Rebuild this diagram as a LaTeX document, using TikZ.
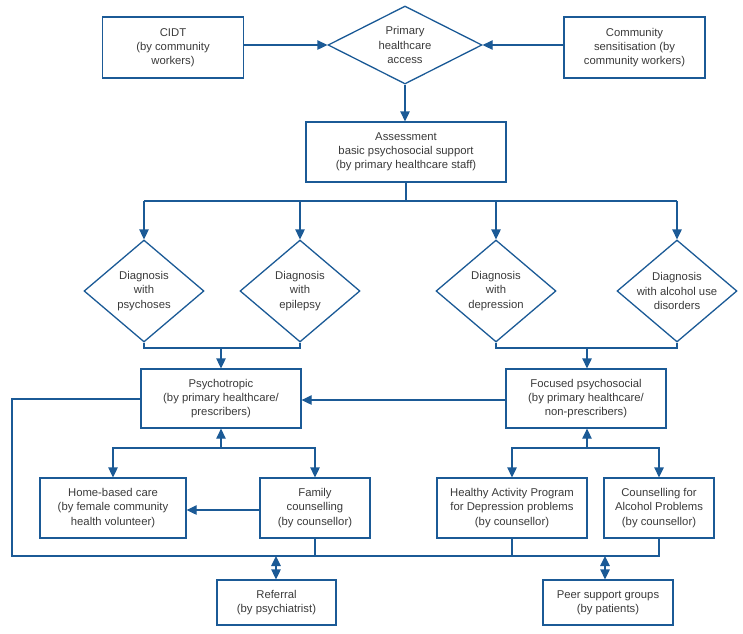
\documentclass[tikz,border=0pt]{standalone}
\usepackage{fontspec}
\setmainfont{Liberation Sans}
\usetikzlibrary{arrows.meta, shapes.geometric}

\definecolor{flowblue}{HTML}{1B5A96}
\definecolor{flowtext}{HTML}{3A3A3A}

\tikzset{
	box/.style={draw=flowblue, line width=1.3pt, rectangle, align=center, inner sep=2pt,
		text=flowtext, font=\fontsize{11.3}{14.2}\selectfont},
	choice/.style={draw=flowblue, line width=1.3pt, diamond, inner sep=0pt},
	choicetext/.style={align=center, text=flowtext, font=\fontsize{11.3}{14.2}\selectfont},
	link/.style={draw=flowblue, line width=1.3pt},
	arrow/.style={link, -{Triangle[length=10pt,width=9.5pt]}},
	twoway/.style={link, {Triangle[length=10pt,width=9.5pt]}-{Triangle[length=10pt,width=9.5pt]}}
}

\begin{document}
\begin{tikzpicture}[x=1pt, y=-1pt]
			\useasboundingbox (0,0) rectangle (743,633);
			% top row
			\node[box, minimum width=141pt, minimum height=61pt] (cidt) at (173,47.5) {CIDT\\(by community\\workers)};
			\node[choice, minimum width=154pt, minimum height=78pt,
				label={[choicetext]center:Primary\\healthcare\\access}] (access) at (405,45) {};
			\node[box, minimum width=141pt, minimum height=61pt] (sensit) at (634.5,47.5) {Community\\sensitisation (by\\community workers)};
			\node[box, minimum width=200pt, minimum height=60pt] (assess) at (406,152) {Assessment\\basic psychosocial support\\(by primary healthcare staff)};
			% diagnoses
			\node[choice, minimum width=120pt, minimum height=102pt,
				label={[choicetext]center:Diagnosis\\with\\psychoses}] (psychoses) at (144,291) {};
			\node[choice, minimum width=120pt, minimum height=102pt,
				label={[choicetext]center:Diagnosis\\with\\epilepsy}] (epilepsy) at (300,291) {};
			\node[choice, minimum width=120pt, minimum height=102pt,
				label={[choicetext]center:Diagnosis\\with\\depression}] (depression) at (496,291) {};
			\node[choice, minimum width=120pt, minimum height=102pt,
				label={[choicetext]center:Diagnosis\\with alcohol use\\disorders}] (alcohol) at (677,291) {};
			% treatments
			\node[box, minimum width=160pt, minimum height=59pt] (psychotropic) at (221,398.5) {Psychotropic\\(by primary healthcare/\\prescribers)};
			\node[box, minimum width=160pt, minimum height=59pt] (focused) at (586,398.5) {Focused psychosocial\\(by primary healthcare/\\non-prescribers)};
			\node[box, minimum width=146pt, minimum height=60pt] (homecare) at (113,508) {Home-based care\\(by female community\\health volunteer)};
			\node[box, minimum width=110pt, minimum height=60pt] (family) at (315,508) {Family\\counselling\\(by counsellor)};
			\node[box, minimum width=150pt, minimum height=60pt] (hap) at (512,508) {Healthy Activity Program\\for Depression problems\\(by counsellor)};
			\node[box, minimum width=110pt, minimum height=60pt] (alcoholcp) at (659,508) {Counselling for\\Alcohol Problems\\(by counsellor)};
			\node[box, minimum width=119pt, minimum height=45pt] (referral) at (276.5,602.5) {Referral\\(by psychiatrist)};
			\node[box, minimum width=130pt, minimum height=45pt] (peer) at (608,602.5) {Peer support groups\\(by patients)};
			% junction points
			\coordinate (split) at (406,201);
			\coordinate (leftjoin) at (221,348);
			\coordinate (rightjoin) at (587,348);
			\coordinate (leftfork) at (221,448);
			\coordinate (rightfork) at (587,448);
			\coordinate (corner) at (12,556);
			\coordinate (refjoin) at (276,556);
			\coordinate (peerjoin) at (605,556);
			% access
			\draw[arrow] (cidt.east |- access.west) -- (access.west);
			\draw[arrow] (sensit.west |- access.east) -- (access.east);
			\draw[arrow] (access.south) -- (assess.north -| access.south);
			% to the diagnoses
			\draw[link] (assess.south) -- (split);
			\draw[link] (psychoses.north |- split) -- (alcohol.north |- split);
			\foreach \d in {psychoses, epilepsy, depression, alcohol}
				\draw[arrow] (\d.north |- split) -- (\d.north);
			% diagnoses to treatment
			\draw[link] (psychoses.south) -- (psychoses.south |- leftjoin) -- (epilepsy.south |- leftjoin) -- (epilepsy.south);
			\draw[link] (depression.south) -- (depression.south |- rightjoin) -- (alcohol.south |- rightjoin) -- (alcohol.south);
			\draw[arrow] (leftjoin) -- (psychotropic.north);
			\draw[arrow] (rightjoin) -- (focused.north -| rightjoin);
			\draw[arrow] (focused.west |- 0,400) -- (psychotropic.east |- 0,400);
			% support under psychotropic
			\draw[arrow] (leftfork) -- (psychotropic.south);
			\draw[arrow] (leftfork) -| (homecare.north);
			\draw[arrow] (leftfork) -| (family.north);
			\draw[arrow] (family.west |- 0,510) -- (homecare.east |- 0,510);
			% support under focused psychosocial
			\draw[arrow] (rightfork) -- (focused.south -| rightfork);
			\draw[arrow] (rightfork) -| (hap.north);
			\draw[arrow] (rightfork) -| (alcoholcp.north);
			% bottom line
			\draw[link] (psychotropic.west |- 0,399) -| (corner) -- (alcoholcp.south |- corner) -- (alcoholcp.south);
			\draw[link] (family.south) -- (family.south |- corner);
			\draw[link] (hap.south) -- (hap.south |- corner);
			\draw[twoway] (refjoin) -- (referral.north -| refjoin);
			\draw[twoway] (peerjoin) -- (peer.north -| peerjoin);
			\end{tikzpicture}
\end{document}
